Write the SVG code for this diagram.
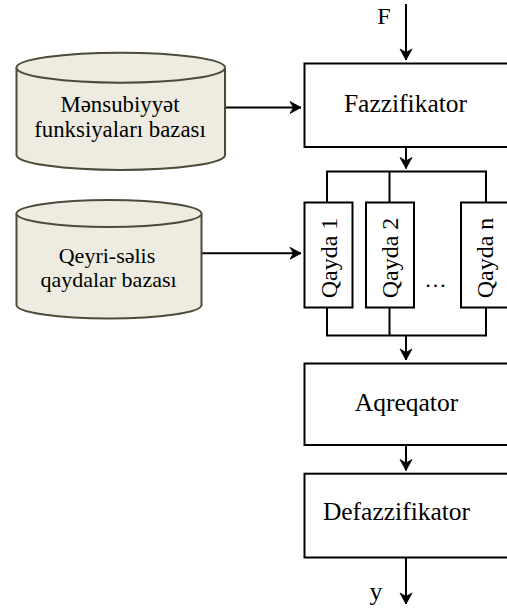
<svg xmlns="http://www.w3.org/2000/svg" width="507" height="611" viewBox="0 0 507 611">
<style>
.box{fill:#fff;stroke:#000;stroke-width:2}
.cyl{fill:#EEECE1;stroke:#4d4a38;stroke-width:2}
.t{font-family:"Liberation Serif","Times New Roman",serif;fill:#000}
.bt{font-size:25.5px;text-anchor:middle}
.ct{font-size:22.8px;text-anchor:middle}
.ct2{font-size:22px;text-anchor:middle}
.qt{font-size:24px;text-anchor:middle}
.ln{fill:none;stroke:#000;stroke-width:2}
</style>
<defs>
<marker id="arr" viewBox="-12 -7 13 14" refX="0" refY="0" markerWidth="13" markerHeight="14" markerUnits="userSpaceOnUse" orient="auto">
<path d="M-11,-6 L0,0 L-11,6 L-7.5,0 Z" fill="#000" stroke="#000" stroke-width="0.8" stroke-linejoin="miter"/>
</marker>
</defs>
<rect width="507" height="611" fill="#fff"/>
<g id="connectors">
<line class="ln" x1="406" y1="4" x2="406" y2="60" marker-end="url(#arr)"/>
<line class="ln" x1="225" y1="107.5" x2="301" y2="107.5" marker-end="url(#arr)"/>
<line class="ln" x1="406" y1="147" x2="406" y2="168.5" marker-end="url(#arr)"/>
<path class="ln" d="M327,202 V171.5 H486 V202 M389.5,171.5 V202"/>
<line class="ln" x1="201.5" y1="253.3" x2="301" y2="253.3" marker-end="url(#arr)"/>
<path class="ln" d="M327,307.5 V335.5 H486 V307.5 M389.5,307.5 V335.5"/>
<line class="ln" x1="406" y1="335.5" x2="406" y2="360" marker-end="url(#arr)"/>
<line class="ln" x1="406" y1="445" x2="406" y2="470.5" marker-end="url(#arr)"/>
<line class="ln" x1="406" y1="558" x2="406" y2="604" marker-end="url(#arr)"/>
</g>
<g id="F-label"><text class="t" x="384" y="23.5" font-size="24" text-anchor="middle">F</text></g>
<g id="y-label"><text class="t" x="376" y="600" font-size="26" text-anchor="middle">y</text></g>
<g id="cyl1">
<path class="cyl" d="M16.5,67.7 A104.25,15 0 0 1 225,67.7 V155 A104.25,15 0 0 1 16.5,155 Z"/>
<path class="cyl" d="M16.5,67.7 A104.25,15 0 0 0 225,67.7" fill="none"/>
<text class="t ct" x="120" y="111.5">Mənsubiyyət</text>
<text class="t ct" x="120" y="137">funksiyaları bazası</text>
</g>
<g id="cyl2">
<path class="cyl" d="M16.5,213.5 A92.5,13.5 0 0 1 201.5,213.5 V305 A92.5,13.5 0 0 1 16.5,305 Z"/>
<path class="cyl" d="M16.5,213.5 A92.5,13.5 0 0 0 201.5,213.5" fill="none"/>
<text class="t ct2" x="107" y="262.5">Qeyri-səlis</text>
<text class="t ct2" x="108.5" y="286.5">qaydalar bazası</text>
</g>
<g id="fazzifikator">
<rect class="box" x="304.5" y="63.5" width="204" height="83.5"/>
<text class="t bt" x="405.5" y="112">Fazzifikator</text>
</g>
<g id="qayda1">
<rect class="box" x="304.5" y="202.5" width="48" height="105"/>
<text class="t qt" transform="translate(336.5,258) rotate(-90)">Qayda 1</text>
</g>
<g id="qayda2">
<rect class="box" x="366" y="202.5" width="48" height="105"/>
<text class="t qt" transform="translate(398,258) rotate(-90)">Qayda 2</text>
</g>
<g id="dots"><text class="t" x="435.5" y="287" font-size="22" text-anchor="middle">…</text></g>
<g id="qaydan">
<rect class="box" x="461" y="202.5" width="48" height="105"/>
<text class="t qt" transform="translate(493,258) rotate(-90)">Qayda n</text>
</g>
<g id="aqreqator">
<rect class="box" x="304.5" y="363.5" width="204" height="81.5"/>
<text class="t bt" x="406.5" y="411">Aqreqator</text>
</g>
<g id="defazzifikator">
<rect class="box" x="304.5" y="473.7" width="204" height="83.8"/>
<text class="t bt" x="396.5" y="520">Defazzifikator</text>
</g>
</svg>
